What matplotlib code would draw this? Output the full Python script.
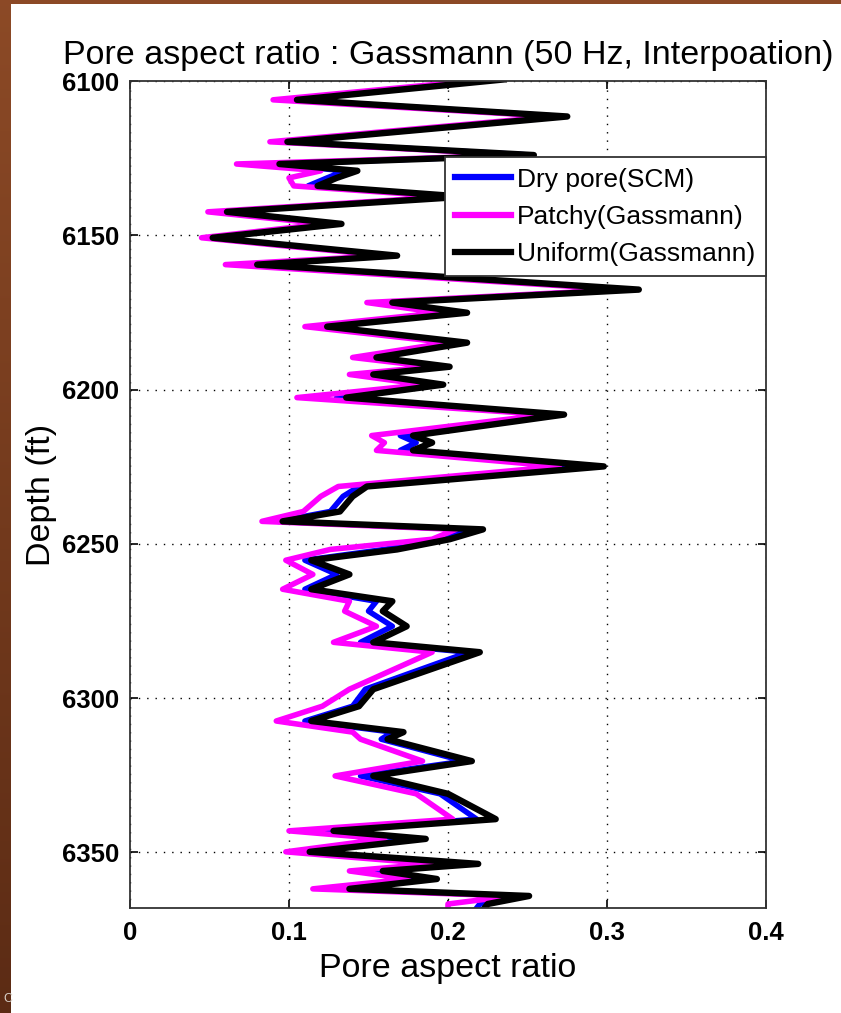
import matplotlib
matplotlib.use('Agg')
import matplotlib.pyplot as plt
import numpy as np
from matplotlib.patches import Rectangle

plt.rcParams['font.family'] = ['Liberation Sans', 'DejaVu Sans']

# depth samples (ft) and the three pore aspect ratio curves
depth = [
	6099.5, 6106.1, 6111.5, 6119.7, 6124.0, 6126.9, 6129.1, 6131.4, 6134.0, 6137.5,
	6142.4, 6146.3, 6150.8, 6156.6, 6159.5, 6167.6, 6171.8, 6175.1, 6179.6, 6184.8,
	6189.6, 6192.6, 6195.1, 6198.4, 6202.6, 6208.1, 6214.9, 6217.2, 6219.7, 6224.9,
	6231.4, 6234.6, 6239.5, 6242.7, 6245.3, 6248.5, 6251.8, 6255.3, 6259.9, 6264.7,
	6268.6, 6271.8, 6276.7, 6281.9, 6285.1, 6297.1, 6302.6, 6307.4, 6311.0, 6313.3,
	6320.4, 6325.2, 6331.0, 6339.2, 6343.0, 6345.6, 6349.8, 6353.7, 6356.0, 6358.6,
	6361.8, 6364.1, 6366.7, 6370.0,
]
uniform = [
	0.235, 0.105, 0.275, 0.099, 0.254, 0.094, 0.143, 0.130, 0.118, 0.210,
	0.061, 0.133, 0.052, 0.168, 0.080, 0.320, 0.165, 0.212, 0.124, 0.212,
	0.155, 0.201, 0.153, 0.197, 0.136, 0.273, 0.178, 0.190, 0.178, 0.298,
	0.149, 0.140, 0.132, 0.096, 0.222, 0.201, 0.168, 0.114, 0.138, 0.114,
	0.165, 0.159, 0.174, 0.153, 0.220, 0.153, 0.144, 0.114, 0.172, 0.162,
	0.215, 0.153, 0.200, 0.230, 0.128, 0.186, 0.113, 0.219, 0.159, 0.193,
	0.138, 0.251, 0.225, 0.220,
]
patchy = [
	0.225, 0.090, 0.267, 0.088, 0.248, 0.067, 0.120, 0.100, 0.103, 0.200,
	0.049, 0.122, 0.045, 0.160, 0.060, 0.310, 0.149, 0.195, 0.110, 0.200,
	0.140, 0.190, 0.138, 0.185, 0.105, 0.262, 0.152, 0.160, 0.155, 0.270,
	0.131, 0.120, 0.109, 0.083, 0.205, 0.190, 0.126, 0.098, 0.115, 0.096,
	0.138, 0.135, 0.155, 0.128, 0.190, 0.138, 0.121, 0.092, 0.140, 0.145,
	0.184, 0.129, 0.180, 0.203, 0.100, 0.160, 0.098, 0.190, 0.138, 0.175,
	0.115, 0.240, 0.200, 0.200,
]
dry = [
	0.232, 0.102, 0.272, 0.097, 0.252, 0.090, 0.135, 0.124, 0.112, 0.205,
	0.058, 0.130, 0.050, 0.165, 0.076, 0.315, 0.160, 0.205, 0.120, 0.208,
	0.150, 0.197, 0.149, 0.190, 0.130, 0.266, 0.170, 0.180, 0.170, 0.290,
	0.144, 0.134, 0.126, 0.093, 0.212, 0.195, 0.160, 0.110, 0.130, 0.110,
	0.155, 0.150, 0.165, 0.145, 0.213, 0.148, 0.140, 0.110, 0.165, 0.158,
	0.210, 0.145, 0.195, 0.218, 0.124, 0.180, 0.110, 0.210, 0.155, 0.185,
	0.134, 0.245, 0.220, 0.215,
]

x_ticks = [0, 0.1, 0.2, 0.3, 0.4]
x_tick_labels = ['0', '0.1', '0.2', '0.3', '0.4']
y_ticks = [6100, 6150, 6200, 6250, 6300, 6350]

W, H = 841, 1013
fig = plt.figure(figsize=(W/100, H/100), dpi=100)

# brown slide backdrop with a white panel over it
grad = np.linspace(0, 1, H)[:, None, None]
top_col = np.array([0.55, 0.29, 0.15])
bot_col = np.array([0.36, 0.17, 0.08])
bg = (top_col*(1-grad) + bot_col*grad) * np.ones((H, W, 3))
fig.figimage(bg, xo=0, yo=0, origin='upper', zorder=-2)
fig.add_artist(Rectangle((11/W, 0), 1, (H-4)/H, transform=fig.transFigure,
	facecolor='white', edgecolor='none', zorder=-1))
fig.text(3/W, 8/H, 'C', fontsize=9, color='#d8d0c8', ha='left', va='bottom')

ax = fig.add_axes([130/W, 1-908/H, 636/W, 827/H])
ax.set_facecolor('white')

ax.plot(dry, depth, color='#0000ff', lw=4.0, label='Dry pore(SCM)')
ax.plot(patchy, depth, color='#ff00ff', lw=4.0, label='Patchy(Gassmann)')
ax.plot(uniform, depth, color='black', lw=4.6, label='Uniform(Gassmann)')

ax.set_xlim(0, 0.4)
ax.set_ylim(6368, 6100)
ax.set_xticks(x_ticks)
ax.set_xticklabels(x_tick_labels)
ax.set_yticks(y_ticks)

ax.grid(True, color='black', linestyle=(0, (1, 5)), linewidth=1.0)
ax.tick_params(direction='in', length=6, width=1.2, top=True, right=True,
	labelsize=18.5, colors='black')
ax.tick_params(axis='x', pad=9)
ax.tick_params(axis='y', pad=8)
for lbl in ax.get_xticklabels() + ax.get_yticklabels():
	lbl.set_fontweight('bold')
for sp in ax.spines.values():
	sp.set_linewidth(1.3)
	sp.set_color('#333333')

ax.set_title('Pore aspect ratio : Gassmann (50 Hz, Interpoation)', fontsize=24.5, pad=12)
ax.set_xlabel('Pore aspect ratio', fontsize=24.5, labelpad=6)
ax.set_ylabel('Depth (ft)', fontsize=24.5, labelpad=3)

leg = ax.legend(loc='upper right', bbox_to_anchor=(1.0, 1-(157-81)/827),
	borderaxespad=0, fontsize=19, handlelength=2.1, handletextpad=0.25,
	borderpad=0.4, labelspacing=0.5, fancybox=False, framealpha=1,
	edgecolor='#333333')
leg.get_frame().set_linewidth(1.3)
for ln in leg.get_lines():
	ln.set_linewidth(4.5)

fig.savefig('out.png', dpi=100, facecolor=fig.get_facecolor())
